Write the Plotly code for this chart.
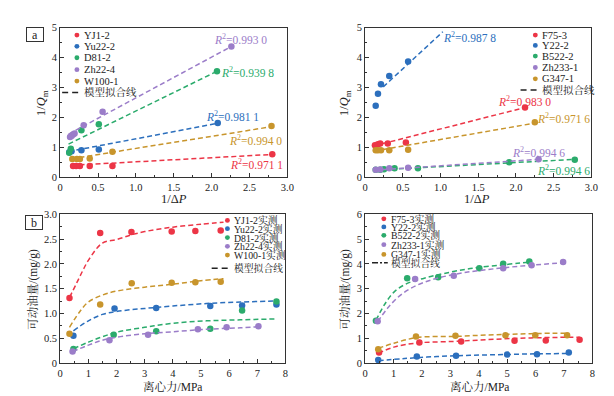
import plotly.graph_objects as go

W, H = 614, 396
SERIF = "Liberation Serif, Times New Roman, Noto Serif CJK SC, Noto Sans CJK SC, serif"

RED, BLUE, GREEN, PURPLE, ORANGE = "#ec3546", "#2c6fbd", "#2bab6c", "#9b7dc9", "#c8952c"

# ---------------- panel a (left) ----------------
a1_names = ["YJ1-2", "Yu22-2", "D81-2", "Zh22-4", "W100-1"]
a1_colors = [RED, BLUE, GREEN, PURPLE, ORANGE]
a1_x = [
    [0.17, 0.21, 0.26, 0.39, 0.69, 2.80],
    [0.12, 0.15, 0.28, 0.51, 2.08],
    [0.12, 0.14, 0.28, 0.51, 2.07],
    [0.13, 0.15, 0.17, 0.19, 0.31, 0.56, 2.26],
    [0.16, 0.22, 0.26, 0.39, 0.69, 2.79],
]
a1_y = [
    [0.38, 0.38, 0.38, 0.38, 0.38, 0.77],
    [0.84, 0.87, 0.90, 0.93, 1.81],
    [0.82, 0.95, 1.57, 1.77, 3.54],
    [1.35, 1.38, 1.43, 1.46, 1.74, 2.19, 4.37],
    [0.61, 0.61, 0.61, 0.63, 0.85, 1.71],
]
a1_fit_x = [[0.15, 2.77], [0.11, 2.07], [0.11, 2.07], [0.11, 2.26], [0.15, 2.79]]
a1_fit_y = [[0.40, 0.76], [0.86, 1.80], [1.11, 3.54], [1.44, 4.37], [0.62, 1.69]]
a1_r2 = ["0.971 1", "0.981 1", "0.939 8", "0.993 0", "0.994 0"]
a1_r2_x = [2.59, 2.28, 2.47, 2.38, 2.58]
a1_r2_y = [0.44, 2.05, 3.51, 4.62, 1.24]

# ---------------- panel a (right) ----------------
a2_names = ["F75-3", "Y22-2", "B522-2", "Zh233-1", "G347-1"]
a2_colors = [RED, BLUE, GREEN, PURPLE, ORANGE]
a2_x = [
    [0.13, 0.17, 0.20, 0.30, 0.54, 2.12],
    [0.14, 0.17, 0.21, 0.32, 0.57],
    [0.14, 0.20, 0.25, 0.39, 0.70, 1.91, 2.78],
    [0.14, 0.20, 0.32, 0.57, 2.30],
    [0.14, 0.17, 0.21, 0.32, 0.57, 2.25],
]
a2_y = [
    [1.07, 1.10, 1.13, 1.13, 1.16, 2.33],
    [2.39, 2.79, 3.11, 3.38, 3.87],
    [0.25, 0.25, 0.27, 0.30, 0.30, 0.50, 0.59],
    [0.25, 0.26, 0.30, 0.32, 0.60],
    [0.90, 0.90, 0.90, 0.90, 0.92, 1.84],
]
a2_fit_x = [[0.13, 2.12], [0.24, 1.03], [0.13, 2.78], [0.13, 2.30], [0.13, 2.25]]
a2_fit_y = [[1.06, 2.33], [3.02, 4.86], [0.24, 0.60], [0.24, 0.60], [0.88, 1.81]]
a2_r2 = ["0.983 0", "0.987 8", "0.994 6", "0.994 6", "0.971 6"]
a2_r2_x = [2.11, 1.39, 2.63, 2.30, 2.63]
a2_r2_y = [2.54, 4.68, 0.25, 0.84, 1.98]

# ---------------- panel b (left) ----------------
b1_names = ["YJ1-2实测", "Yu22-2实测", "D81-2实测", "Zh22-4实测", "W100-1实测"]
b1_colors = [RED, BLUE, GREEN, PURPLE, ORANGE]
b1_x = [
    [0.33, 1.42, 2.53, 3.96, 4.80, 5.70],
    [0.47, 1.93, 3.41, 5.33, 6.46, 7.68],
    [0.47, 1.90, 3.41, 5.33, 6.46, 7.68],
    [0.44, 1.75, 3.12, 4.89, 5.91, 7.04],
    [0.33, 1.42, 2.54, 3.96, 4.80, 5.70],
]
b1_y = [
    [1.31, 2.62, 2.64, 2.65, 2.66, 2.67],
    [0.55, 1.10, 1.11, 1.15, 1.16, 1.18],
    [0.28, 0.57, 0.64, 0.69, 1.06, 1.24],
    [0.23, 0.46, 0.57, 0.68, 0.72, 0.74],
    [0.59, 1.18, 1.61, 1.62, 1.63, 1.64],
]
b1_fit_x = [
    [0.33, 0.6, 0.8, 1.0, 1.5, 2.0, 2.5, 3.0, 4.0, 5.0, 5.8],
    [0.47, 1.0, 1.5, 2.0, 3.0, 4.0, 5.2, 6.4, 7.7],
    [0.47, 1.0, 1.5, 2.0, 3.0, 4.0, 5.2, 6.4, 7.7],
    [0.44, 1.0, 1.5, 2.0, 3.0, 4.0, 5.2, 6.4, 7.04],
    [0.33, 0.7, 1.0, 1.5, 2.0, 3.0, 4.0, 5.0, 5.8],
]
b1_fit_y = [
    [1.32, 1.63, 1.86, 2.07, 2.42, 2.49, 2.58, 2.65, 2.74, 2.80, 2.84],
    [0.65, 0.85, 0.98, 1.04, 1.10, 1.15, 1.20, 1.23, 1.25],
    [0.29, 0.42, 0.53, 0.62, 0.72, 0.80, 0.85, 0.87, 0.89],
    [0.23, 0.36, 0.46, 0.52, 0.59, 0.63, 0.68, 0.71, 0.73],
    [0.72, 1.04, 1.23, 1.37, 1.45, 1.53, 1.59, 1.66, 1.70],
]

# ---------------- panel b (right) ----------------
b2_names = ["F75-3实测", "Y22-2实测", "B522-2实测", "Zh233-1实测", "G347-1实测"]
b2_colors = [RED, BLUE, GREEN, PURPLE, ORANGE]
b2_x = [
    [0.49, 1.91, 3.38, 5.26, 6.36, 7.55],
    [0.46, 1.82, 3.20, 5.00, 6.05, 7.17],
    [0.38, 1.48, 2.57, 4.02, 4.86, 5.78],
    [0.44, 1.76, 3.12, 4.86, 5.86, 6.97],
    [0.46, 1.79, 3.18, 4.94, 5.99, 7.11],
]
b2_y = [
    [0.42, 0.83, 0.87, 0.90, 0.91, 0.94],
    [0.12, 0.26, 0.29, 0.34, 0.35, 0.42],
    [1.70, 3.42, 3.46, 3.82, 4.00, 4.09],
    [1.68, 3.39, 3.52, 3.82, 3.94, 4.07],
    [0.55, 1.07, 1.10, 1.12, 1.12, 1.12],
]
b2_fit_x = [
    [0.46, 1.04, 1.85, 3.12, 4.28, 5.43, 6.59, 7.55],
    [0.46, 1.39, 2.54, 3.70, 4.86, 6.01, 7.17],
    [0.38, 0.69, 1.04, 1.50, 2.08, 2.77, 3.70, 4.86, 5.78],
    [0.44, 0.81, 1.27, 1.85, 2.54, 3.47, 4.62, 5.78, 6.97],
    [0.46, 1.04, 1.85, 3.12, 4.28, 5.43, 6.59, 7.17],
]
b2_fit_y = [
    [0.39, 0.65, 0.81, 0.87, 0.94, 1.00, 1.03, 1.04],
    [0.09, 0.18, 0.26, 0.31, 0.34, 0.37, 0.38],
    [1.72, 2.37, 2.89, 3.22, 3.42, 3.61, 3.81, 3.96, 4.07],
    [1.66, 2.24, 2.76, 3.15, 3.42, 3.64, 3.81, 3.94, 4.04],
    [0.59, 0.81, 1.03, 1.07, 1.13, 1.17, 1.20, 1.20],
]

fit_label = "模型拟合线"

# tick labels
a_xticks = [0, 0.5, 1.0, 1.5, 2.0, 2.5, 3.0]
a_xtext = ["0", "0.5", "1.0", "1.5", "2.0", "2.5", "3.0"]
a_yticks = [0, 1, 2, 3, 4, 5]
b_xticks = [0, 1, 2, 3, 4, 5, 6, 7, 8]
b1_yticks = [0, 0.5, 1.0, 1.5, 2.0, 2.5, 3.0]
b1_ytext = ["0", "0.5", "1.0", "1.5", "2.0", "2.5", "3.0"]
b2_yticks = [0, 1, 2, 3, 4, 5, 6]


def px(x):
    return x / W


def py(y):
    return 1 - y / H


fig = go.Figure()
DASH = "5px,3px"


def add_panel(ax, names, colors, xs, ys, fxs, fys):
    for n, c, x, y, fx, fy in zip(names, colors, xs, ys, fxs, fys):
        fig.add_trace(go.Scatter(x=fx, y=fy, mode="lines", xaxis="x" + ax, yaxis="y" + ax,
                                 line=dict(color=c, width=1.5, dash=DASH, shape="spline"),
                                 showlegend=False, hoverinfo="skip"))
        fig.add_trace(go.Scatter(x=x, y=y, mode="markers", name=n, xaxis="x" + ax, yaxis="y" + ax,
                                 marker=dict(color=c, size=6.5, line=dict(width=0)),
                                 showlegend=False))


add_panel("", a1_names, a1_colors, a1_x, a1_y, a1_fit_x, a1_fit_y)
add_panel("2", a2_names, a2_colors, a2_x, a2_y, a2_fit_x, a2_fit_y)
add_panel("3", b1_names, b1_colors, b1_x, b1_y, b1_fit_x, b1_fit_y)
add_panel("4", b2_names, b2_colors, b2_x, b2_y, b2_fit_x, b2_fit_y)

AX = dict(showline=True, mirror=True, linecolor="#333", linewidth=1, ticks="inside", ticklen=4,
          tickcolor="#333", showgrid=False, zeroline=False, tickmode="array",
          tickfont=dict(family=SERIF, size=10.5, color="#222"), fixedrange=True)


def axis(domain, rng, tv, tt, minor, anchor):
    d = dict(AX)
    d.update(domain=domain, range=rng, tickvals=tv, ticktext=tt, anchor=anchor,
             minor=dict(ticks="inside", ticklen=2, tickcolor="#333", tick0=0, dtick=minor))
    return d


a_ytext = [str(v) for v in a_yticks]
b_xtext = [str(v) for v in b_xticks]
b2_ytext = [str(v) for v in b2_yticks]

fig.update_layout(
    width=W, height=H, margin=dict(l=0, r=0, t=0, b=0),
    paper_bgcolor="white", plot_bgcolor="white", showlegend=False,
    xaxis=axis([px(50), px(281)], [0, 3.0], a_xticks, a_xtext, 0.25, "y"),
    yaxis=axis([py(169), py(15)], [0, 5], a_yticks, a_ytext, 0.5, "x"),
    xaxis2=axis([px(360), px(590)], [0, 3.0], a_xticks, a_xtext, 0.25, "y2"),
    yaxis2=axis([py(169), py(15)], [0, 5], a_yticks, a_ytext, 0.5, "x2"),
    xaxis3=axis([px(50), px(279)], [0, 8], b_xticks, b_xtext, 0.5, "y3"),
    yaxis3=axis([py(360), py(207)], [0, 3.0], b1_yticks, b1_ytext, 0.25, "x3"),
    xaxis4=axis([px(360), px(591)], [0, 8], b_xticks, b_xtext, 0.5, "y4"),
    yaxis4=axis([py(360), py(207)], [0, 6], b2_yticks, b2_ytext, 0.5, "x4"),
)

ann = []
shapes = []


def text(x, y, s, size=11, angle=0, color="#222", xanchor="center"):
    ann.append(dict(x=px(x), y=py(y), xref="paper", yref="paper", text=s, showarrow=False,
                    textangle=angle, xanchor=xanchor, yanchor="middle",
                    font=dict(family=SERIF, size=size, color=color)))


# axis titles
text(32, 92, "1/<i>Q</i><sub>m</sub>", 12.5, -90)
text(166, 191, "1/Δ<i>P</i>", 12.5)
text(340, 92, "1/<i>Q</i><sub>m</sub>", 12.5, -90)
text(474, 191, "1/Δ<i>P</i>", 12.5)
text(22, 284, "可动油量/(mg/g)", 11.5, -90)
text(164, 384, "离心力/MPa", 11.5)
text(340, 284, "可动油量/(mg/g)", 11.5, -90)
text(476, 384, "离心力/MPa", 11.5)

# panel labels
for lbl, cx, cy in [("a", 24, 22.5), ("b", 23, 215.5)]:
    ann.append(dict(x=px(cx), y=py(cy), xref="paper", yref="paper", text=lbl, showarrow=False,
                    xanchor="center", yanchor="middle", width=14, height=11, borderpad=1,
                    bordercolor="#333", borderwidth=1, bgcolor="white",
                    font=dict(family=SERIF, size=12, color="#222")))

# R^2 labels (data coordinates)
for xr, yr, labs, xs, ys, cols in [("x", "y", a1_r2, a1_r2_x, a1_r2_y, a1_colors),
                                   ("x2", "y2", a2_r2, a2_r2_x, a2_r2_y, a2_colors)]:
    for s, x, y, c in zip(labs, xs, ys, cols):
        ann.append(dict(x=x, y=y, xref=xr, yref=yr, showarrow=False, xanchor="center",
                        yanchor="middle", text="<i>R</i><sup>2</sup>=" + s,
                        font=dict(family=SERIF, size=11.5, color=c)))


# manual legends
def legend(names, colors, mx, tx, rows, lx0, lx1, size, dash):
    for n, c, ry in zip(names, colors, rows[:-1]):
        shapes.append(dict(type="circle", xref="paper", yref="paper",
                           x0=px(mx - 2.5), x1=px(mx + 2.5), y0=py(ry + 2.5), y1=py(ry - 2.5),
                           fillcolor=c, line=dict(width=0)))
        text(tx, ry, n, size, xanchor="left", color="#222")
    shapes.append(dict(type="line", xref="paper", yref="paper", x0=px(lx0), x1=px(lx1),
                       y0=py(rows[-1]), y1=py(rows[-1]), line=dict(color="#222", width=1.5, dash=dash)))
    text(tx, rows[-1], fit_label, size, xanchor="left", color="#222")


legend(a1_names, a1_colors, 67, 72, [22.7, 34.3, 46, 58.3, 70, 81.7], 52, 71, 10.5, "6px,4px")
legend(a2_names, a2_colors, 533, 538, [22.7, 33.3, 44.3, 56, 67.7, 79.3], 518, 537, 10.5, "6px,4px")
legend(b1_names, b1_colors, 220, 225, [213.3, 221.8, 231.0, 240.0, 249.0, 262.5], 204, 221, 9.8, "6px,4px")
legend(b2_names, b2_colors, 379, 384, [211.7, 220, 228.7, 238.3, 248.3, 257], 367, 383, 9.8, "6px,2px,2px,2px")

fig.update_layout(annotations=ann, shapes=shapes)
fig.write_html("out.html")
